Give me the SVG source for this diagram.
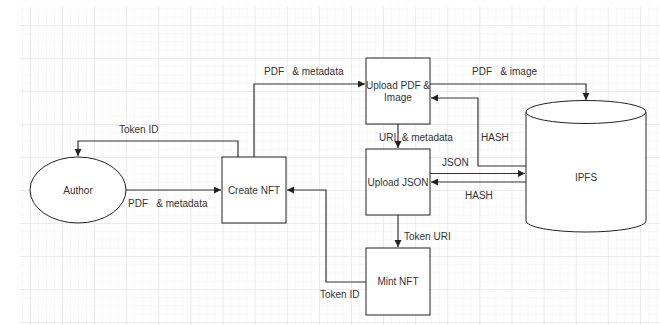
<svg xmlns="http://www.w3.org/2000/svg" width="660" height="325" viewBox="0 0 660 325">
<defs>
<pattern id="minor" patternUnits="userSpaceOnUse" x="30" y="25" width="8.025" height="8.25">
<path d="M0,0 V8.25 M0,0 H8.025" fill="none" stroke="#f0f0f0" stroke-width="1"/>
</pattern>
<pattern id="major" patternUnits="userSpaceOnUse" x="30" y="25" width="32.1" height="33">
<path d="M0,0 V33 M0,0 H32.1" fill="none" stroke="#e0e0e0" stroke-width="1"/>
</pattern>
<marker id="arr" markerUnits="userSpaceOnUse" markerWidth="8" markerHeight="8" refX="7" refY="3.5" orient="auto">
<path d="M0,0 L7,3.5 L0,7 z" fill="#222"/>
</marker>
</defs>
<style>
.node{fill:#fff;stroke:#222;stroke-width:1}
.t{font-family:"Liberation Sans",Arial,sans-serif;font-size:10px;fill:#333}
.c{text-anchor:middle}
.e{fill:none;stroke:#333;stroke-width:1.2;marker-end:url(#arr)}
.l{fill:none;stroke:#333;stroke-width:1.2}
</style>
<rect width="660" height="325" fill="#fff"/>
<rect x="20" y="6" width="640" height="319" fill="url(#minor)"/>
<rect x="20" y="6" width="640" height="319" fill="url(#major)"/>

<g id="connectors">
<path class="e" d="M126,190 H221"/>
<path class="e" d="M238,157 V141 H78 V156"/>
<path class="e" d="M254,157 V84 H365"/>
<path class="e" d="M430,84 H586 V100"/>
<path class="e" d="M526,166 H478 V98 H431"/>
<path class="e" d="M430,173.5 H525"/>
<path class="e" d="M526,182 H431"/>
<path class="e" d="M398,124 V148"/>
<path class="e" d="M398,215 V247"/>
<path class="e" d="M366,282 H326 V190 H287"/>
<text class="t" x="128" y="207" xml:space="preserve">PDF   &amp; metadata</text>
<text class="t" x="119" y="133">Token ID</text>
<text class="t" x="264" y="75" xml:space="preserve">PDF   &amp; metadata</text>
<text class="t" x="472" y="75" xml:space="preserve">PDF   &amp; image</text>
<text class="t" x="481" y="141">HASH</text>
<text class="t" x="379" y="141" xml:space="preserve">URI  &amp; metadata</text>
<text class="t" x="442" y="166">JSON</text>
<text class="t" x="465" y="199">HASH</text>
<text class="t" x="404" y="240">Token URI</text>
<text class="t" x="320" y="298">Token ID</text>
</g>

<g id="author">
<ellipse class="node" cx="78" cy="190" rx="48" ry="33"/>
<text class="t c" x="78" y="194">Author</text>
</g>
<g id="create-nft">
<rect class="node" x="222" y="157" width="64" height="66"/>
<text class="t c" x="254" y="194">Create NFT</text>
</g>
<g id="upload-pdf">
<rect class="node" x="366" y="58" width="64" height="66"/>
<text class="t c" x="398" y="89">Upload PDF &amp;</text>
<text class="t c" x="398" y="101">Image</text>
</g>
<g id="upload-json">
<rect class="node" x="366" y="149" width="64" height="66"/>
<text class="t c" x="398" y="186">Upload JSON</text>
</g>
<g id="mint-nft">
<rect class="node" x="366" y="248" width="64" height="67"/>
<text class="t c" x="398" y="285">Mint NFT</text>
</g>
<g id="ipfs">
<path class="node" d="M526,112 V221 A60,11 0 0 0 646,221 V112"/>
<ellipse class="node" cx="586" cy="112" rx="60" ry="11.5"/>
<text class="t c" x="586" y="181">IPFS</text>
</g>
</svg>
